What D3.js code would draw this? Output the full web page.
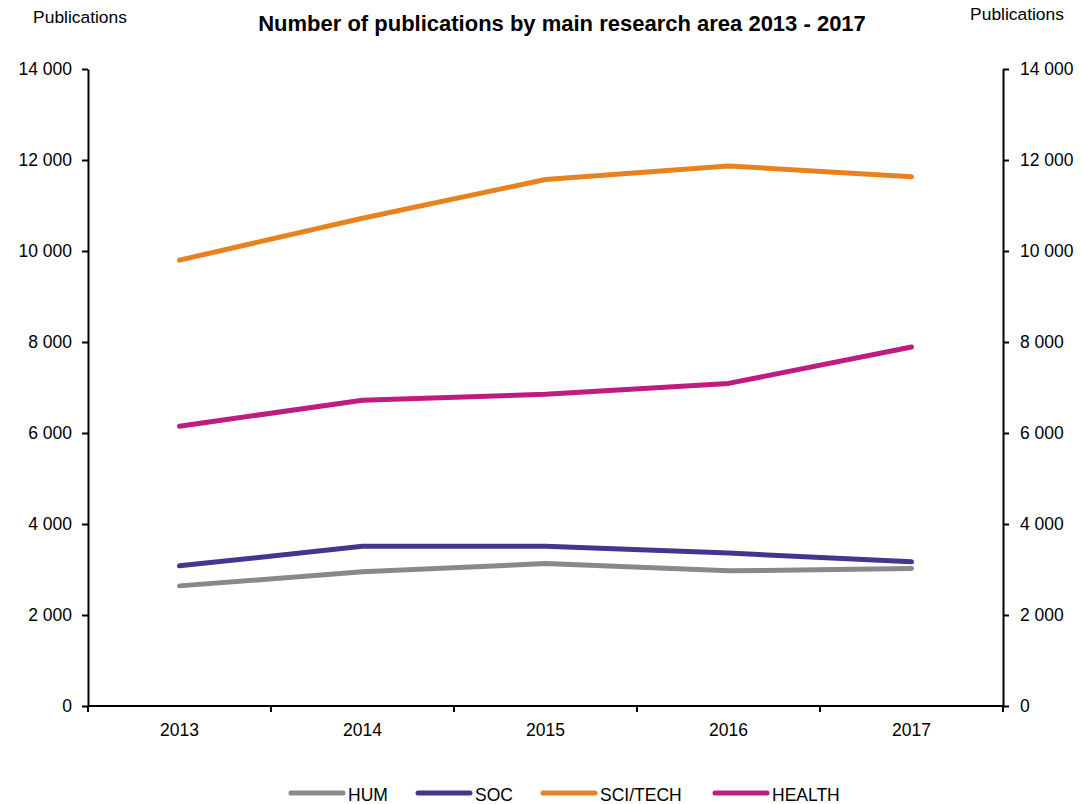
<!DOCTYPE html>
<html>
<head>
<meta charset="utf-8">
<script src="https://cdn.jsdelivr.net/npm/d3@7"></script>
<style>
  body { margin: 0; background: #fff; }
  text { font-family: "Liberation Sans", Arial, sans-serif; fill: #000; }
</style>
</head>
<body>
<script>
// data
var years    = ["2013", "2014", "2015", "2016", "2017"];
var hum      = [2640, 2950, 3130, 2970, 3020];
var soc      = [3080, 3510, 3510, 3360, 3170];
var scitech  = [9800, 10720, 11570, 11870, 11630];
var health   = [6150, 6720, 6850, 7090, 7890];
var yTicks   = [0, 2000, 4000, 6000, 8000, 10000, 12000, 14000];

var series = [
  { name: "HUM",      values: hum,     colour: "#898989" },
  { name: "SOC",      values: soc,     colour: "#46348f" },
  { name: "SCI/TECH", values: scitech, colour: "#e8821f" },
  { name: "HEALTH",   values: health,  colour: "#c01b80" }
];

var W = 1081, H = 804,
    plot = { left: 88, right: 1003, top: 69, bottom: 706 };

var svg = d3.select("body").append("svg")
  .attr("width", W)
  .attr("height", H);

var x = d3.scaleBand().domain(years).range([plot.left, plot.right]),
    y = d3.scaleLinear().domain([0, 14000]).range([plot.bottom, plot.top]);

var fmt = d3.formatLocale({ decimal: ".", thousands: " ", grouping: [3], currency: ["", ""] }).format(",d");

// axes
var yLeft = d3.axisLeft(y).tickValues(yTicks).tickFormat(fmt).tickSize(6).tickPadding(10),
    yRight = d3.axisRight(y).tickValues(yTicks).tickFormat(fmt).tickSize(6).tickPadding(11);

function styleAxis(g) {
  g.select(".domain").attr("stroke", "#000").attr("stroke-width", 2);
  g.selectAll(".tick line").attr("stroke", "#000").attr("stroke-width", 2);
  g.selectAll(".tick text").style("font-size", "17.5px").attr("fill", "#000");
}

svg.append("g")
  .attr("transform", "translate(" + plot.left + ",0)")
  .call(yLeft.tickSizeOuter(0))
  .call(styleAxis);

svg.append("g")
  .attr("transform", "translate(" + plot.right + ",0)")
  .call(yRight.tickSizeOuter(0))
  .call(styleAxis);

// x axis: ticks on band boundaries, labels at band centres
var bounds = years.map(function(d){ return x(d); }).concat([plot.right]);
var xg = svg.append("g").attr("class", "xaxis");
xg.append("line")
  .attr("x1", plot.left).attr("x2", plot.right)
  .attr("y1", plot.bottom).attr("y2", plot.bottom)
  .attr("stroke", "#000").attr("stroke-width", 2);
xg.selectAll("line.tick").data(bounds).enter().append("line")
  .attr("class", "tick")
  .attr("x1", function(d){ return d; }).attr("x2", function(d){ return d; })
  .attr("y1", plot.bottom).attr("y2", plot.bottom + 6)
  .attr("stroke", "#000").attr("stroke-width", 2);
xg.selectAll("text").data(years).enter().append("text")
  .attr("x", function(d){ return x(d) + x.bandwidth() / 2; })
  .attr("y", 736)
  .attr("text-anchor", "middle")
  .style("font-size", "17.5px")
  .text(function(d){ return d; });

// lines
var line = d3.line()
  .x(function(d, i){ return x(years[i]) + x.bandwidth() / 2; })
  .y(function(d){ return y(d); });

svg.selectAll("path.series").data(series).enter().append("path")
  .attr("class", "series")
  .attr("d", function(s){ return line(s.values); })
  .attr("fill", "none")
  .attr("stroke", function(s){ return s.colour; })
  .attr("stroke-width", 5)
  .attr("stroke-linecap", "round")
  .attr("stroke-linejoin", "round");

// titles
svg.append("text")
  .attr("x", 562).attr("y", 31)
  .attr("text-anchor", "middle")
  .style("font-size", "22px").style("font-weight", "bold")
  .text("Number of publications by main research area 2013 - 2017");

svg.append("text")
  .attr("x", 80).attr("y", 23)
  .attr("text-anchor", "middle")
  .style("font-size", "17.4px")
  .text("Publications");

svg.append("text")
  .attr("x", 1017).attr("y", 20)
  .attr("text-anchor", "middle")
  .style("font-size", "17.4px")
  .text("Publications");

// legend
var legendX = [289, 416, 541, 713];
var lg = svg.selectAll("g.legend").data(series).enter().append("g")
  .attr("class", "legend")
  .attr("transform", function(s, i){ return "translate(" + legendX[i] + ",793)"; });
lg.append("line")
  .attr("x1", 2).attr("x2", 54)
  .attr("stroke", function(s){ return s.colour; })
  .attr("stroke-width", 5)
  .attr("stroke-linecap", "round");
lg.append("text")
  .attr("x", 59).attr("y", 8)
  .style("font-size", "17.5px")
  .text(function(s){ return s.name; });
</script>
</body>
</html>
